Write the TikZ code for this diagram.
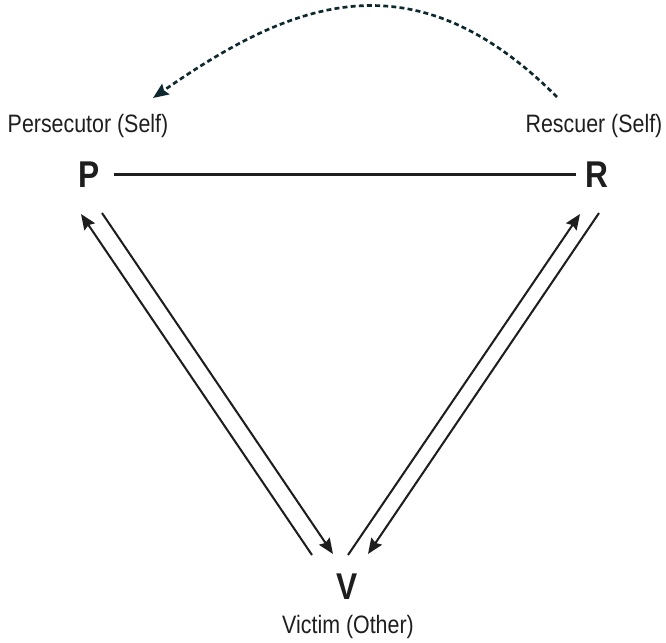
\documentclass[tikz,border=0pt]{standalone}
\usepackage{fontspec}
\setmainfont{Liberation Sans}[FakeStretch=0.85]
\usepackage{tikz}
\usetikzlibrary{arrows.meta, positioning}
\usepackage{xcolor}
\definecolor{inkcolor}{RGB}{30, 30, 30}
\definecolor{arccolor}{RGB}{14, 40, 48}

\begin{document}
\begin{tikzpicture}[x=0.025cm, y=-0.025cm,
  rolelabel/.style={font=\fontsize{17.9}{20}\selectfont, text=inkcolor, inner sep=0pt, anchor=base},
  roleletter/.style={font=\fontsize{26.5}{30}\selectfont\bfseries, text=inkcolor, inner sep=0pt},
  linkarrow/.style={-{Stealth[length=11pt, width=9pt, inset=1.5pt]}, line width=1.45pt, draw=inkcolor}]
\useasboundingbox (0,0) rectangle (666,643);

\node[roleletter] (P) at (89,174.5) {P};
\node[roleletter] (R) at (596.5,174.5) {R};
\node[roleletter] (V) at (347,586.5) {V};

\node[rolelabel] (plabel) at (88,133) {Persecutor (Self)};
\node[rolelabel] (rlabel) at (594,133) {Rescuer (Self)};
\node[rolelabel] (vlabel) at (348,633) {Victim (Other)};

\draw[line width=1.45pt, draw=inkcolor, shorten <=14*0.025cm, shorten >=9*0.025cm] (P.east) -- (R.west);

\draw[linkarrow] ([shift={(-35,-31.5)}]V.center) -- ([shift={(-8,39.5)}]P.center);
\draw[linkarrow] ([shift={(13,38.5)}]P.center) -- ([shift={(-14,-32.5)}]V.center);
\draw[linkarrow] ([shift={(1,-31.5)}]V.center) -- ([shift={(-16.5,39.5)}]R.center);
\draw[linkarrow] ([shift={(2.5,38.5)}]R.center) -- ([shift={(21,-32.5)}]V.center);

\draw[-{Stealth[length=11pt, width=9pt, inset=1.5pt]}, draw=arccolor, line width=1.9pt, dash pattern=on 3.5pt off 2.3pt]
  ([shift={(-37,-36)}]rlabel.base) .. controls (413,-47) and (292,1) .. ([shift={(65,-35)}]plabel.base);
\end{tikzpicture}
\end{document}
